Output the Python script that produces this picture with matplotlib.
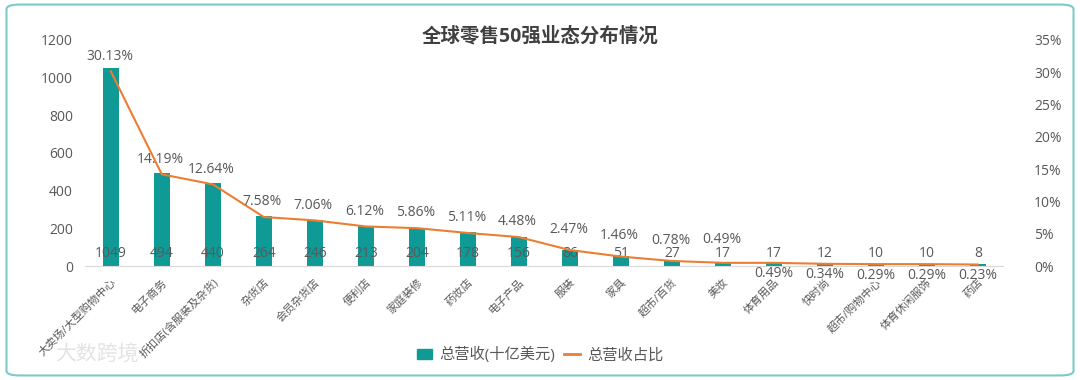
import matplotlib.pyplot as plt
from matplotlib.patches import FancyBboxPatch, Patch
from matplotlib.lines import Line2D
from matplotlib.ticker import FuncFormatter

plt.rcParams['font.family'] = ['Open Sans', 'Noto Sans CJK SC', 'DejaVu Sans']

# data
categories = ["大卖场/大型购物中心", "电子商务", "折扣店(含服装及杂货)", "杂货店", "会员杂货店",
              "便利店", "家庭装修", "药妆店", "电子产品", "服装", "家具", "超市/百货",
              "美妆", "体育用品", "快时尚", "超市/购物中心", "体育休闲服饰", "药店"]
revenue = [1049, 494, 440, 264, 246, 213, 204, 178, 156, 86, 51, 27, 17, 17, 12, 10, 10, 8]
share = [30.13, 14.19, 12.64, 7.58, 7.06, 6.12, 5.86, 5.11, 4.48, 2.47, 1.46, 0.78,
         0.49, 0.49, 0.34, 0.29, 0.29, 0.23]
label_below = [False] * 13 + [True] * 5

teal = '#0F9A95'
orange = '#ED7D31'
gray = '#595959'

fig = plt.figure(figsize=(10.8, 3.8), dpi=100)
ax = fig.add_axes([0.079, 0.30, 0.85, 0.595])
ax2 = ax.twinx()

x = list(range(len(categories)))
ax.bar(x, revenue, width=0.32, color=teal, zorder=2)
ax.set_xlim(-0.5, len(categories) - 0.5)
ax.set_ylim(0, 1200)
ax.set_yticks(range(0, 1201, 200))
for i, v in enumerate(revenue):
    ax.text(i, 68, str(v), ha='center', va='center', fontsize=10, color=gray, zorder=5)

ax2.plot(x, share, color=orange, lw=1.5, zorder=3)
ax2.set_ylim(0, 35)
ax2.set_yticks(range(0, 36, 5))
ax2.yaxis.set_major_formatter(FuncFormatter(lambda v, p: f"{int(v)}%"))
for i, s in enumerate(share):
    if label_below[i]:
        ax2.annotate(f"{s:.2f}%", (i, s), xytext=(0, -8), textcoords='offset points',
                     ha='center', va='center', fontsize=10, color=gray)
    else:
        up = 11 if s > 3 else (15 if s > 0.6 else 17)
        ax2.annotate(f"{s:.2f}%", (i, s), xytext=(-1, up), textcoords='offset points',
                     ha='center', va='center', fontsize=10, color=gray)

ax.set_xticks(x)
ax.set_xticklabels(categories, rotation=45, ha='right', rotation_mode='anchor',
                   fontsize=8, color=gray)
for a in (ax, ax2):
    for side in ('top', 'left', 'right', 'bottom'):
        a.spines[side].set_visible(False)
    a.tick_params(length=0, labelsize=10, labelcolor=gray)
ax.tick_params(axis='x', pad=8, labelsize=8)
ax.spines['bottom'].set_visible(True)
ax.spines['bottom'].set_color('#D9D9D9')
ax2.tick_params(axis='y', pad=22)
ax.tick_params(axis='y', pad=9)

fig.text(0.5, 0.905, "全球零售50强业态分布情况", ha='center', va='center',
         fontsize=14, fontweight='bold', color='#404040')

handles = [Patch(color=teal), Line2D([0], [0], color=orange, lw=2)]
fig.legend(handles, ["总营收(十亿美元)", "总营收占比"], loc='center', bbox_to_anchor=(0.5, 0.065),
           ncol=2, frameon=False, fontsize=11, handlelength=1.0, handletextpad=0.5,
           columnspacing=0.6, labelcolor=gray)

fig.text(0.09, 0.065, "大数跨境", ha='center', va='center', fontsize=15, color='#E3E3E3')

border = FancyBboxPatch((0.006, 0.012), 0.988, 0.976, boxstyle="round,pad=0,rounding_size=0.012",
                        transform=fig.transFigure, fill=False, edgecolor='#7CCBC6', lw=1.5)
fig.patches.append(border)

fig.savefig("out.png", dpi=100)
